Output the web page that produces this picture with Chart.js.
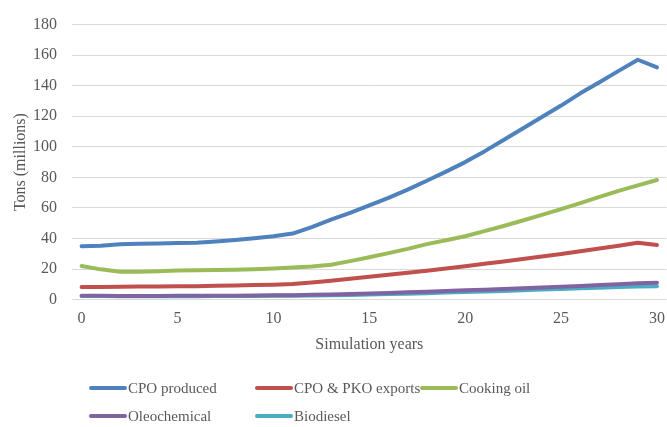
<!DOCTYPE html>
<html><head><meta charset="utf-8">
<script src="https://cdn.jsdelivr.net/npm/chart.js@4"></script>
<style>html,body{margin:0;padding:0;background:#fff}#wrap{width:667px;height:427px}</style>
</head><body><div id="wrap"><canvas id="c" width="667" height="427"></canvas></div>
<script>
const years = Array.from({length:31},(_,i)=>i);
const seriesNames = ["CPO produced","CPO & PKO exports","Cooking oil","Oleochemical","Biodiesel"];
const cpoProduced = [35,35.3,36.2,36.5,36.8,37,37.2,38,39,40.2,41.5,43.2,47.5,52.3,56.8,61.6,66.6,72,77.8,83.8,90,97,104.5,112,119.5,127,135,142.3,149.7,157,152];
const cpoPkoExports = [8.2,8.3,8.4,8.5,8.6,8.7,8.8,9,9.2,9.5,9.8,10.2,11.2,12.3,13.6,14.9,16.2,17.5,18.9,20.4,21.9,23.4,25,26.6,28.2,29.8,31.7,33.5,35.3,37.2,35.8];
const cookingOil = [22,19.8,18.2,18.3,18.6,19,19.2,19.4,19.6,19.9,20.4,21,21.7,22.8,25.2,27.7,30.4,33.2,36.3,38.8,41.5,44.8,48.2,51.8,55.5,59.2,63.2,67.2,71.2,74.8,78.3];
const oleochemical = [2.5,2.5,2.4,2.4,2.4,2.5,2.5,2.5,2.6,2.7,2.8,2.9,3.1,3.3,3.6,4.0,4.4,4.8,5.2,5.6,6.1,6.5,6.9,7.4,7.9,8.4,8.9,9.5,10.1,10.7,11.1];
const biodiesel = [2.4,2.3,2.2,2.2,2.2,2.2,2.2,2.3,2.3,2.4,2.5,2.6,2.7,2.8,3.0,3.3,3.6,3.9,4.2,4.6,4.9,5.3,5.7,6.1,6.6,7.0,7.4,7.8,8.2,8.6,8.7];
const xTicks = [0,5,10,15,20,25,30];
const yTicks = [0,20,40,60,80,100,120,140,160,180];
const xTitle = "Simulation years";
const yTitle = "Tons (millions)";

const colors = ["#4F81BD","#C0504D","#9BBB59","#8064A2","#4BACC6"];
const values = [cpoProduced,cpoPkoExports,cookingOil,oleochemical,biodiesel];
const FONT = "'Liberation Serif', serif";
const TXT = "#595959";

const legendPlugin = {
  id:'gridLegend',
  afterDraw(chart){
    const ctx = chart.ctx;
    const cols = [91,257,422];
    const rows = [388,416];
    ctx.save();
    ctx.font = "15px " + FONT;
    ctx.fillStyle = TXT;
    ctx.textBaseline = "middle";
    ctx.lineCap = "round";
    chart.data.datasets.forEach((ds,i)=>{
      const x = cols[i%3], y = rows[Math.floor(i/3)];
      ctx.strokeStyle = ds.borderColor;
      ctx.lineWidth = 4;
      ctx.beginPath(); ctx.moveTo(x,y); ctx.lineTo(x+34,y); ctx.stroke();
      ctx.fillText(ds.label, x+37, y+1);
    });
    ctx.restore();
  }
};

new Chart(document.getElementById('c'),{
  type:'line',
  data:{
    datasets: seriesNames.map((n,i)=>({
      label:n,
      data: years.map((x,j)=>({x:x,y:values[i][j]})),
      borderColor:colors[i], backgroundColor:colors[i],
      borderWidth:4, pointRadius:0, tension:0, borderCapStyle:'round', borderJoinStyle:'round'
    }))
  },
  options:{
    responsive:false, animation:false,
    layout:{padding:{top:4,right:0,left:0,bottom:73}},
    plugins:{legend:{display:false},tooltip:{enabled:false}},
    scales:{
      x:{type:'linear',min:-0.5,max:30.5,
        afterBuildTicks(s){s.ticks = xTicks.map(v=>({value:v}));},
        grid:{display:false},border:{display:false},
        ticks:{color:TXT,font:{family:FONT,size:16},padding:2,maxRotation:0},
        title:{display:true,text:xTitle,color:TXT,font:{family:FONT,size:16},padding:{top:4,bottom:0}}
      },
      y:{min:0,max:180,
        afterBuildTicks(s){s.ticks = yTicks.map(v=>({value:v}));},
        afterFit(s){s.width = 72;},
        grid:{color:"#D9D9D9",lineWidth:1,drawTicks:false},border:{display:false},
        ticks:{color:TXT,font:{family:FONT,size:16},padding:15},
        title:{display:true,text:yTitle,color:TXT,font:{family:FONT,size:16},padding:{top:11,bottom:0}}
      }
    }
  },
  plugins:[legendPlugin]
});
</script></body></html>
